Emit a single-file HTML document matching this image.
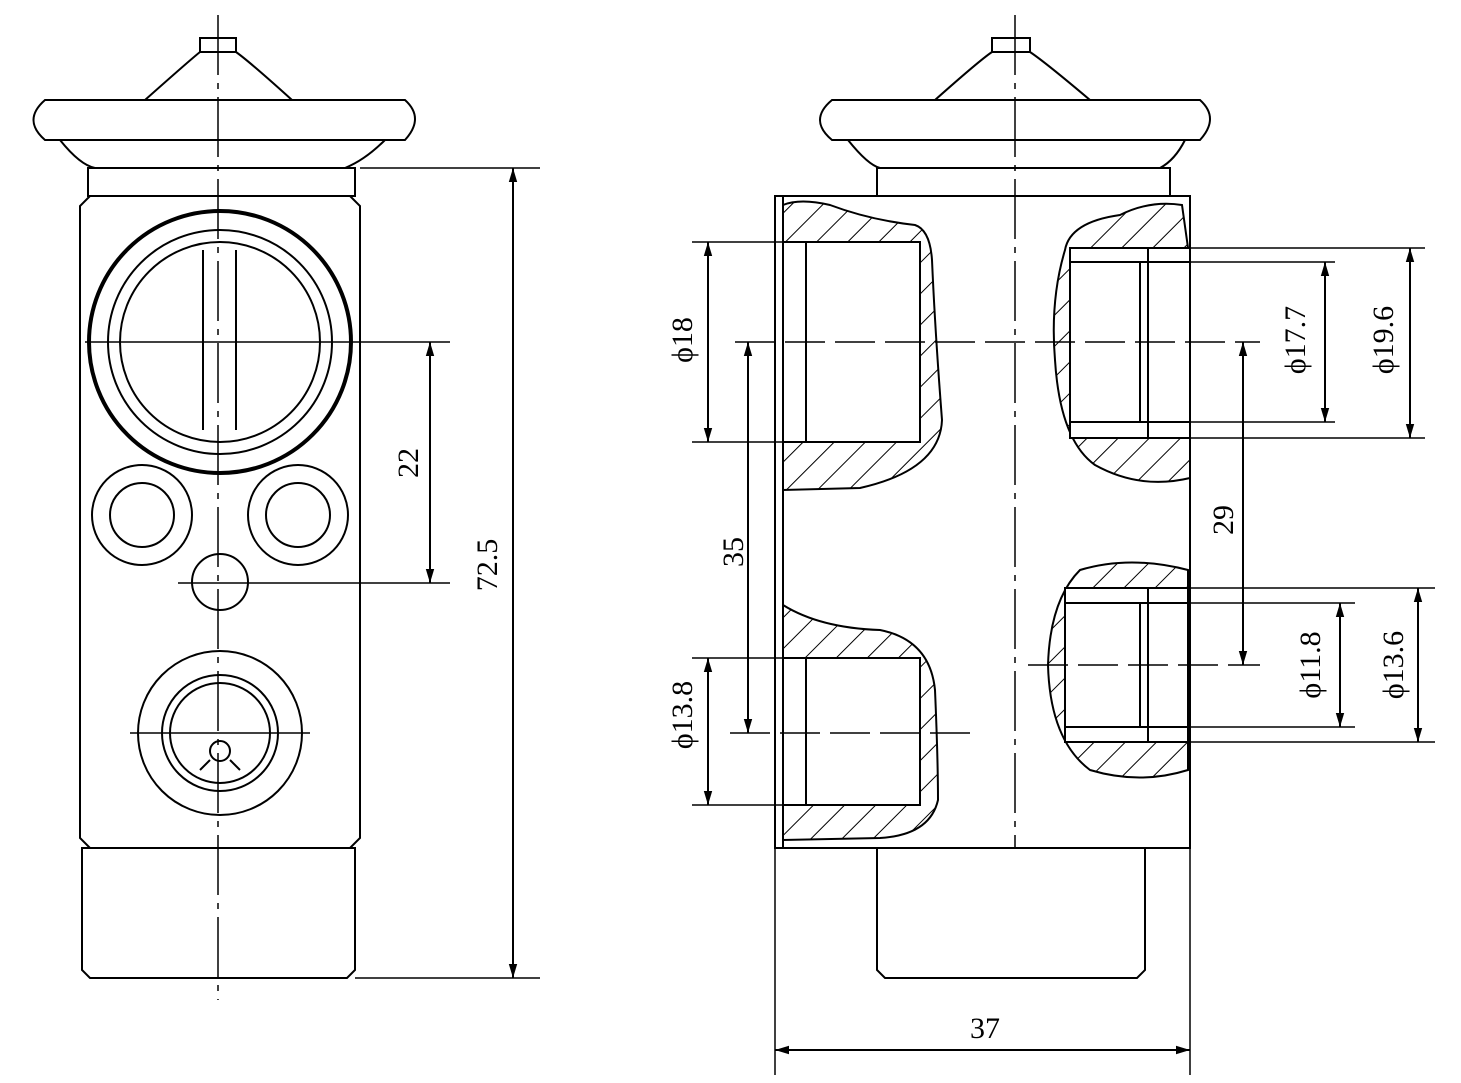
<!DOCTYPE html>
<html><head><meta charset="utf-8"><style>
html,body{margin:0;padding:0;background:#fff}
svg{display:block}
text{font-family:"Liberation Serif",serif;font-size:30px;fill:#000}
</style></head><body>
<svg width="1461" height="1083" viewBox="0 0 1461 1083" xmlns="http://www.w3.org/2000/svg">
<defs>
<pattern id="h" width="22" height="22" patternUnits="userSpaceOnUse" patternTransform="rotate(45)">
<line x1="0" y1="0" x2="0" y2="22" stroke="#000" stroke-width="2"/>
</pattern>
<marker id="a" viewBox="0 0 10 10" refX="10" refY="5" markerWidth="14" markerHeight="14" markerUnits="userSpaceOnUse" orient="auto-start-reverse"><path d="M0,2 L10,5 L0,8 z" fill="#000"/></marker>
</defs>
<g fill="none" stroke="#000" stroke-width="2">
<!-- LEFT VIEW -->
<rect x="200" y="38" width="36" height="14"/>
<path d="M145,100 Q190,60 200,52 L236,52 Q250,62 292,100"/>
<path d="M45,100 L405,100 Q425,118 405,140 L45,140 Q22,120 45,100 Z"/>
<path d="M60,140 Q80,165 95,168 L345,168 Q365,160 385,140"/>
<rect x="88" y="168" width="267" height="28"/>
<path d="M90,196 L350,196 L360,206 L360,838 L350,848 L90,848 L80,838 L80,206 Z"/>
<path d="M82,848 L355,848 L355,970 L347,978 L90,978 L82,970 Z"/>
<circle cx="220" cy="342" r="131" stroke-width="4"/>
<circle cx="220" cy="342" r="112"/>
<circle cx="220" cy="342" r="100"/>
<line x1="203" y1="250" x2="203" y2="430"/><line x1="236" y1="250" x2="236" y2="430"/>
<circle cx="142" cy="515" r="50"/><circle cx="142" cy="515" r="32"/>
<circle cx="298" cy="515" r="50"/><circle cx="298" cy="515" r="32"/>
<circle cx="220" cy="582" r="28"/>
<circle cx="220" cy="733" r="82"/><circle cx="220" cy="733" r="58"/><circle cx="220" cy="733" r="50"/>
<circle cx="220" cy="751" r="10"/>
<path d="M200,770 L210,760 M240,770 L230,760"/>
<line x1="218" y1="15" x2="218" y2="1000" stroke-dasharray="60,8,6,8" stroke-width="1.5"/>
<line x1="85" y1="342" x2="450" y2="342" stroke-width="1.5"/>
<line x1="178" y1="583" x2="450" y2="583" stroke-width="1.5"/>
<line x1="130" y1="733" x2="310" y2="733" stroke-width="1.5"/>
<line x1="360" y1="168" x2="540" y2="168" stroke-width="1.5"/>
<line x1="355" y1="978" x2="540" y2="978" stroke-width="1.5"/>
<line x1="513" y1="168" x2="513" y2="978" marker-start="url(#a)" marker-end="url(#a)"/>
<line x1="430" y1="342" x2="430" y2="583" marker-start="url(#a)" marker-end="url(#a)"/>

<!-- RIGHT VIEW -->
<rect x="992" y="38" width="38" height="14"/>
<path d="M935,100 Q980,60 992,52 L1030,52 Q1045,62 1090,100"/>
<path d="M832,100 L1200,100 Q1220,118 1200,140 L832,140 Q808,120 832,100 Z"/>
<path d="M848,140 Q868,165 880,168 L1160,168 Q1175,160 1185,140"/>
<rect x="877" y="168" width="293" height="28"/>
<rect x="775" y="196" width="415" height="652"/>
<line x1="783" y1="196" x2="783" y2="848"/>
<path d="M877,848 L877,970 L885,978 L1137,978 L1145,970 L1145,848"/>
<line x1="1015" y1="15" x2="1015" y2="848" stroke-dasharray="60,8,6,8" stroke-width="1.5"/>
<path d="M783,205 Q800,198 830,205 Q870,220 915,225 Q930,230 932,260 Q935,330 942,420 Q940,470 860,488 L783,490 L783,442 L920,442 L920,242 L783,242 Z" fill="url(#h)"/>
<rect x="806" y="242" width="114" height="200" fill="#fff"/>
<path d="M783,605 Q820,628 880,630 Q930,640 935,690 Q938,760 938,800 Q930,835 880,838 L783,840 L783,805 L920,805 L920,658 L783,658 Z" fill="url(#h)"/>
<rect x="806" y="658" width="114" height="147" fill="#fff"/>
<path d="M1182,205 Q1150,200 1120,215 Q1070,222 1065,250 Q1050,300 1055,360 Q1060,440 1095,465 Q1140,490 1190,478 L1190,438 L1070,438 L1070,262 L1190,262 Z" fill="url(#h)"/>
<rect x="1070" y="248" width="120" height="190" fill="#fff"/>
<line x1="1140" y1="262" x2="1140" y2="422"/><line x1="1070" y1="262" x2="1190" y2="262"/><line x1="1070" y1="422" x2="1190" y2="422"/>
<line x1="1148" y1="248" x2="1148" y2="438"/>
<path d="M1188,570 Q1130,555 1080,570 Q1050,600 1048,665 Q1050,740 1090,770 Q1140,785 1188,770 L1188,742 L1065,742 L1065,588 L1188,588 Z" fill="url(#h)"/>
<rect x="1065" y="588" width="123" height="154" fill="#fff"/>
<line x1="1140" y1="603" x2="1140" y2="727"/><line x1="1065" y1="603" x2="1190" y2="603"/><line x1="1065" y1="727" x2="1190" y2="727"/>
<line x1="1148" y1="588" x2="1148" y2="742"/>
<line x1="735" y1="342" x2="1260" y2="342" stroke-dasharray="40,10" stroke-width="1.5"/>
<line x1="730" y1="733" x2="975" y2="733" stroke-dasharray="40,10" stroke-width="1.5"/>
<line x1="1028" y1="665" x2="1260" y2="665" stroke-dasharray="40,10" stroke-width="1.5"/>
<line x1="692" y1="242" x2="806" y2="242" stroke-width="1.5"/><line x1="692" y1="442" x2="806" y2="442" stroke-width="1.5"/>
<line x1="708" y1="242" x2="708" y2="442" marker-start="url(#a)" marker-end="url(#a)"/>
<line x1="692" y1="658" x2="806" y2="658" stroke-width="1.5"/><line x1="692" y1="805" x2="806" y2="805" stroke-width="1.5"/>
<line x1="708" y1="658" x2="708" y2="805" marker-start="url(#a)" marker-end="url(#a)"/>
<line x1="748" y1="342" x2="748" y2="733" marker-start="url(#a)" marker-end="url(#a)"/>
<line x1="1148" y1="248" x2="1425" y2="248" stroke-width="1.5"/><line x1="1148" y1="438" x2="1425" y2="438" stroke-width="1.5"/>
<line x1="1410" y1="248" x2="1410" y2="438" marker-start="url(#a)" marker-end="url(#a)"/>
<line x1="1140" y1="262" x2="1335" y2="262" stroke-width="1.5"/><line x1="1140" y1="422" x2="1335" y2="422" stroke-width="1.5"/>
<line x1="1325" y1="262" x2="1325" y2="422" marker-start="url(#a)" marker-end="url(#a)"/>
<line x1="1243" y1="342" x2="1243" y2="665" marker-start="url(#a)" marker-end="url(#a)"/>
<line x1="1148" y1="588" x2="1435" y2="588" stroke-width="1.5"/><line x1="1148" y1="742" x2="1435" y2="742" stroke-width="1.5"/>
<line x1="1418" y1="588" x2="1418" y2="742" marker-start="url(#a)" marker-end="url(#a)"/>
<line x1="1140" y1="603" x2="1355" y2="603" stroke-width="1.5"/><line x1="1140" y1="727" x2="1355" y2="727" stroke-width="1.5"/>
<line x1="1340" y1="603" x2="1340" y2="727" marker-start="url(#a)" marker-end="url(#a)"/>
<line x1="775" y1="848" x2="775" y2="1075" stroke-width="1.5"/>
<line x1="1190" y1="848" x2="1190" y2="1075" stroke-width="1.5"/>
<line x1="775" y1="1050" x2="1190" y2="1050" marker-start="url(#a)" marker-end="url(#a)"/>
</g>
<text transform="translate(418,463) rotate(-90)" text-anchor="middle">22</text>
<text transform="translate(497,565) rotate(-90)" text-anchor="middle">72.5</text>
<text transform="translate(692,340) rotate(-90)" text-anchor="middle">ϕ18</text>
<text transform="translate(692,715) rotate(-90)" text-anchor="middle">ϕ13.8</text>
<text transform="translate(743,552) rotate(-90)" text-anchor="middle">35</text>
<text transform="translate(1305,340) rotate(-90)" text-anchor="middle">ϕ17.7</text>
<text transform="translate(1393,340) rotate(-90)" text-anchor="middle">ϕ19.6</text>
<text transform="translate(1233,520) rotate(-90)" text-anchor="middle">29</text>
<text transform="translate(1320,665) rotate(-90)" text-anchor="middle">ϕ11.8</text>
<text transform="translate(1403,665) rotate(-90)" text-anchor="middle">ϕ13.6</text>
<text x="985" y="1038" text-anchor="middle">37</text>
</svg>
</body></html>
